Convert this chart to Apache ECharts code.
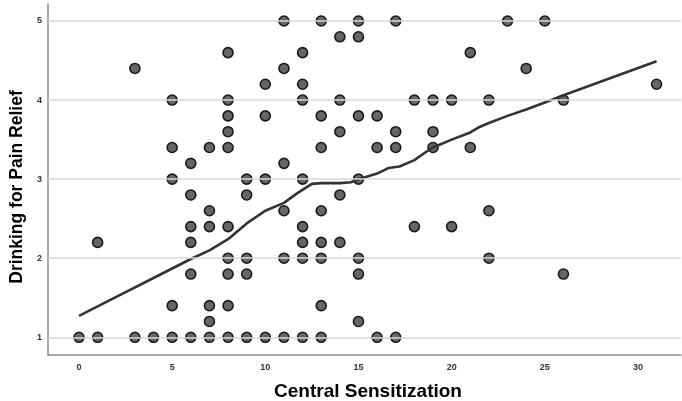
<!DOCTYPE html>
<html>
<head>
<meta charset="utf-8">
<script src="https://cdn.jsdelivr.net/npm/echarts@6/dist/echarts.min.js"></script>
<style>
html,body{margin:0;padding:0;background:#fff;}
#chart{width:682px;height:401px;}
</style>
</head>
<body>
<div id="chart"></div>
<script>
// Scatter points: Central Sensitization (x) vs Drinking for Pain Relief (y)
var pointX = [
  0,
  1, 1,
  3, 3,
  4,
  5, 5, 5, 5, 5,
  6, 6, 6, 6, 6, 6,
  7, 7, 7, 7, 7, 7,
  8, 8, 8, 8, 8, 8, 8, 8, 8, 8,
  9, 9, 9, 9, 9,
  10, 10, 10, 10,
  11, 11, 11, 11, 11, 11,
  12, 12, 12, 12, 12, 12, 12, 12,
  13, 13, 13, 13, 13, 13, 13, 13,
  14, 14, 14, 14, 14,
  15, 15, 15, 15, 15, 15, 15,
  16, 16, 16,
  17, 17, 17, 17,
  18, 18,
  19, 19, 19,
  20, 20,
  21, 21,
  22, 22, 22,
  23,
  24,
  25,
  26, 26,
  31
];
var pointY = [
  1,
  1, 2.2,
  1, 4.4,
  1,
  1, 1.4, 3, 3.4, 4,
  1, 1.8, 2.2, 2.4, 2.8, 3.2,
  1, 1.2, 1.4, 2.4, 2.6, 3.4,
  1, 1.4, 1.8, 2, 2.4, 3.4, 3.6, 3.8, 4, 4.6,
  1, 1.8, 2, 2.8, 3,
  1, 3, 3.8, 4.2,
  1, 2, 2.6, 3.2, 4.4, 5,
  1, 2, 2.2, 2.4, 3, 4, 4.2, 4.6,
  1, 1.4, 2, 2.2, 2.6, 3.4, 3.8, 5,
  2.2, 2.8, 3.6, 4, 4.8,
  1.2, 1.8, 2, 3, 3.8, 4.8, 5,
  1, 3.4, 3.8,
  1, 3.4, 3.6, 5,
  2.4, 4,
  3.4, 3.6, 4,
  2.4, 4,
  3.4, 4.6,
  2, 2.6, 4,
  5,
  4.4,
  5,
  1.8, 4,
  4.2
];
// Fit (loess) line
var fitX = [0, 2, 4, 5, 6, 7, 8, 9, 10, 11, 11.7, 12.5, 13, 14, 14.6, 15, 16, 16.6, 17.2, 18, 18.6, 19, 20, 21, 21.5, 22, 23, 24, 25, 26, 31];
var fitY = [1.27, 1.51, 1.75, 1.87, 1.99, 2.10, 2.24, 2.44, 2.60, 2.70, 2.82, 2.94, 2.95, 2.95, 2.96, 3.00, 3.07, 3.14, 3.16, 3.24, 3.34, 3.40, 3.50, 3.59, 3.66, 3.71, 3.80, 3.88, 3.97, 4.06, 4.49];
// Tick labels
var xTicks = [0, 5, 10, 15, 20, 25, 30];
var yTicks = [1, 2, 3, 4, 5];
var xTitle = 'Central Sensitization';
var yTitle = 'Drinking for Pain Relief';

var scatterData = pointX.map(function (x, i) { return [x, pointY[i]]; });
var fitData = fitX.map(function (x, i) { return [x, fitY[i]]; });
var gridData = yTicks.map(function (v) { return { yAxis: v }; });

var chart = echarts.init(document.getElementById('chart'), null, { renderer: 'canvas' });
var fontFam = '"Liberation Sans", Arial, sans-serif';
chart.setOption({
  animation: false,
  backgroundColor: '#ffffff',
  grid: { left: 48, right: 1, top: 4, bottom: 46, containLabel: false },
  xAxis: {
    type: 'value',
    min: -1.664,
    max: 32.31,
    axisLine: { show: true, onZero: false, lineStyle: { color: '#8c8c8c', width: 1.5 } },
    axisTick: { show: false },
    splitLine: { show: false },
    axisLabel: {
      customValues: xTicks,
      margin: 8,
      color: '#333',
      fontSize: 9,
      fontWeight: 'bold',
      fontFamily: fontFam
    }
  },
  yAxis: {
    type: 'value',
    min: 0.776,
    max: 5.215,
    axisLine: { show: true, onZero: false, lineStyle: { color: '#8c8c8c', width: 1.5 } },
    axisTick: { show: false },
    splitLine: { show: false },
    axisLabel: {
      customValues: yTicks,
      margin: 6,
      color: '#333',
      fontSize: 9,
      fontWeight: 'bold',
      fontFamily: fontFam
    }
  },
  graphic: [
    {
      type: 'text',
      x: 368, y: 392,
      style: {
        text: xTitle,
        fill: '#000',
        font: 'bold 19px "Liberation Sans", Arial, sans-serif',
        align: 'center',
        verticalAlign: 'middle'
      }
    },
    {
      type: 'text',
      x: 17, y: 187,
      rotation: Math.PI / 2,
      style: {
        text: yTitle,
        fill: '#000',
        font: 'bold 17.5px "Liberation Sans", Arial, sans-serif',
        align: 'center',
        verticalAlign: 'middle'
      }
    }
  ],
  series: [
    {
      type: 'line',
      data: [],
      z: 1,
      silent: true,
      markLine: {
        silent: true,
        symbol: ['none', 'none'],
        label: { show: false },
        lineStyle: { color: '#d9d9d9', width: 1.5, type: 'solid' },
        emphasis: { disabled: true },
        animation: false,
        data: gridData
      }
    },
    {
      type: 'scatter',
      data: scatterData,
      z: 2,
      symbol: 'circle',
      symbolSize: 10,
      itemStyle: { color: '#666666', borderColor: '#1a1a1a', borderWidth: 1.6, opacity: 1 }
    },
    {
      type: 'line',
      data: fitData,
      z: 3,
      showSymbol: false,
      symbol: 'none',
      smooth: false,
      lineStyle: { color: '#333333', width: 2.6 }
    }
  ]
});
</script>
</body>
</html>
